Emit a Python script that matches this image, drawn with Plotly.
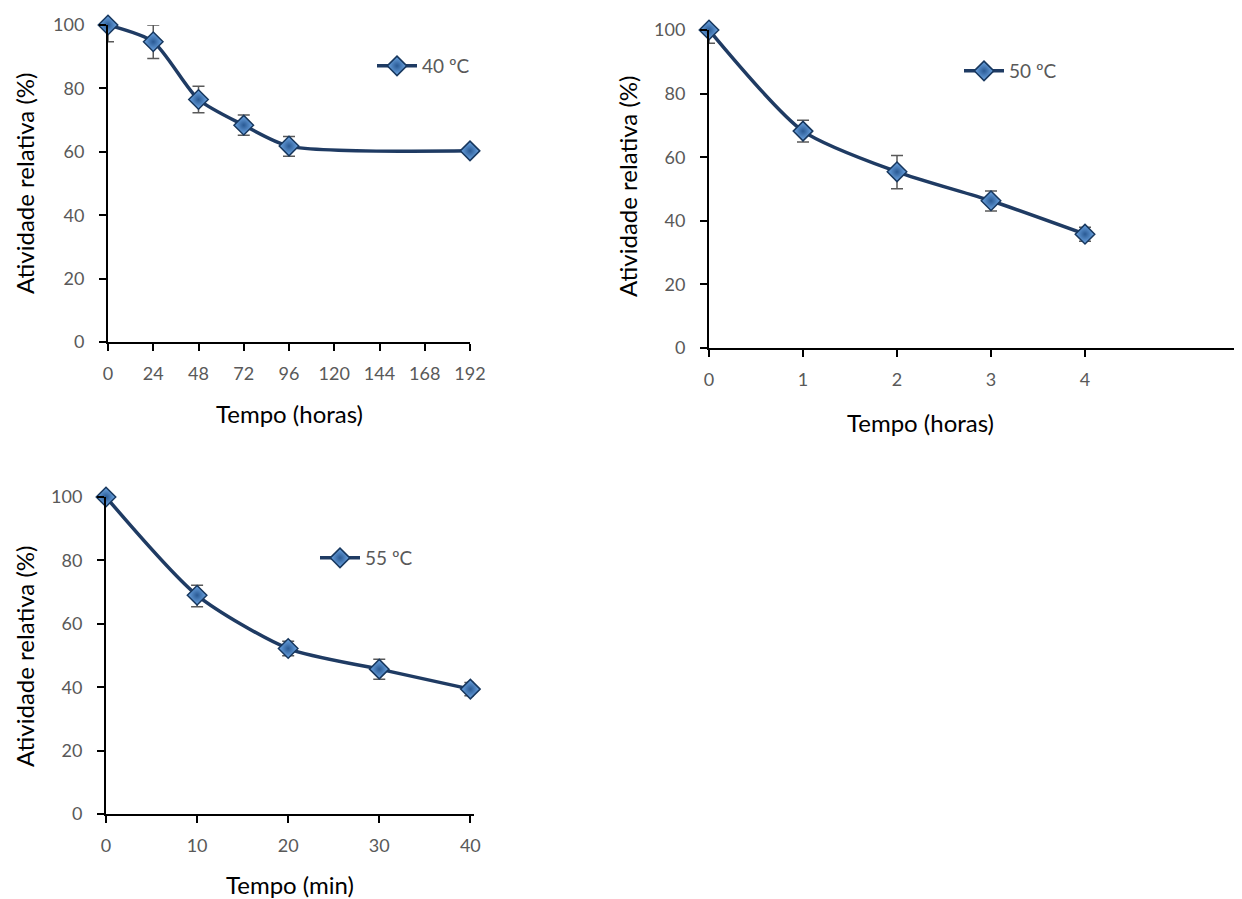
import plotly.graph_objects as go

W, H = 1242, 899
OX, OY = 8, 8  # page body margin offset

# ---- data ----
t40 = [0, 24, 48, 72, 96, 192]
a40 = [100, 94.7, 76.5, 68.4, 61.8, 60.3]
e40_plus = [0, 5.3, 4.2, 3.2, 3.0, 0.5]
e40_minus = [5.3, 5.3, 4.2, 3.2, 3.2, 0.5]
ticks40 = [0, 24, 48, 72, 96, 120, 144, 168, 192]

t50 = [0, 1, 2, 3, 4]
a50 = [100, 68.2, 55.4, 46.3, 35.8]
e50_plus = [0, 3.4, 5.1, 3.1, 2.2]
e50_minus = [4.2, 3.4, 5.3, 3.2, 2.2]
ticks50 = [0, 1, 2, 3, 4]

t55 = [0, 10, 20, 30, 40]
a55 = [100, 69.0, 52.2, 45.7, 39.4]
e55_plus = [0, 3.2, 2.3, 3.1, 2.1]
e55_minus = [0.5, 3.6, 2.3, 3.2, 2.1]
ticks55 = [0, 10, 20, 30, 40]

yticks = [0, 20, 40, 60, 80, 100]

names = ["40 ºC", "50 ºC", "55 ºC"]

FONT = "Lato"
LINE_C = "#1F3B63"
TICK_C = "#595959"

def px(x):
    return (x - OX) / W

def py(y):
    return 1 - (y - OY) / H

fig = go.Figure()

series = [
    (t40, a40, e40_plus, e40_minus, "x", "y", "legend"),
    (t50, a50, e50_plus, e50_minus, "x2", "y2", "legend2"),
    (t55, a55, e55_plus, e55_minus, "x3", "y3", "legend3"),
]
for (tx, ay, ep, em, xa, ya, lg), nm in zip(series, names):
    fig.add_trace(go.Scatter(
        x=tx, y=ay, name=nm, xaxis=xa, yaxis=ya, legend=lg,
        mode="lines+markers", showlegend=True,
        line=dict(color=LINE_C, width=3.5, shape="spline", smoothing=0.7),
        marker=dict(symbol="diamond", size=15, color="#6FA8E6",
                    gradient=dict(type="radial", color="#2A5A94"),
                    line=dict(color="#17375E", width=1.5)),
        error_y=dict(type="data", symmetric=False, array=ep, arrayminus=em,
                     color=TICK_C, thickness=1.5, width=6),
        cliponaxis=False,
    ))

axis_common = dict(
    showgrid=False, zeroline=False, showline=True, linecolor="black", linewidth=2,
    ticks="outside", ticklen=7, tickwidth=2, tickcolor="black", automargin=False,
    tickfont=dict(family=FONT, size=18, color=TICK_C),
)

fig.update_layout(
    width=W, height=H, margin=dict(l=0, r=0, t=0, b=0, pad=0, autoexpand=False),
    paper_bgcolor="white", plot_bgcolor="white", showlegend=True,
    font=dict(family=FONT),
    xaxis=dict(domain=[px(108), px(470)], range=[0, 192], tickvals=ticks40,
               anchor="y", ticklabelstandoff=7, **axis_common),
    yaxis=dict(domain=[py(342), py(25)], range=[0, 100], tickvals=yticks,
               anchor="x", ticklabelstandoff=11, **axis_common),
    xaxis2=dict(domain=[px(709), px(1242)], range=[0, (1242 - 709) / 94.0], tickvals=ticks50,
                anchor="y2", ticklabelstandoff=7, **axis_common),
    yaxis2=dict(domain=[py(348), py(30)], range=[0, 100], tickvals=yticks,
                anchor="x2", ticklabelstandoff=11, **axis_common),
    xaxis3=dict(domain=[px(106), px(474)], range=[0, 40.4], tickvals=ticks55,
                anchor="y3", ticklabelstandoff=7, **axis_common),
    yaxis3=dict(domain=[py(814), py(497)], range=[0, 100], tickvals=yticks,
                anchor="x3", ticklabelstandoff=11, **axis_common),
)

leg_common = dict(bgcolor="rgba(0,0,0,0)", borderwidth=0, xanchor="left", yanchor="middle",
                  font=dict(family=FONT, size=19, color=TICK_C), itemwidth=40,
                  tracegroupgap=0, visible=True)
fig.update_layout(
    legend=dict(x=px(372), y=py(66), **leg_common),
    legend2=dict(x=px(959), y=py(71), **leg_common),
    legend3=dict(x=px(315), y=py(558), **leg_common),
)

title_font = dict(family=FONT, size=24, color="black")
annos = [
    ("Tempo (horas)", 289, 413, 0),
    ("Atividade relativa (%)", 24, 184, -90),
    ("Tempo (horas)", 920, 422, 0),
    ("Atividade relativa (%)", 628, 187, -90),
    ("Tempo (min)", 290, 884, 0),
    ("Atividade relativa (%)", 24, 657, -90),
]
for txt, x, y, ang in annos:
    fig.add_annotation(text=txt, x=px(x), y=py(y), xref="paper", yref="paper",
                       showarrow=False, textangle=ang, font=title_font,
                       xanchor="center", yanchor="middle")

fig.write_html("out.html")
